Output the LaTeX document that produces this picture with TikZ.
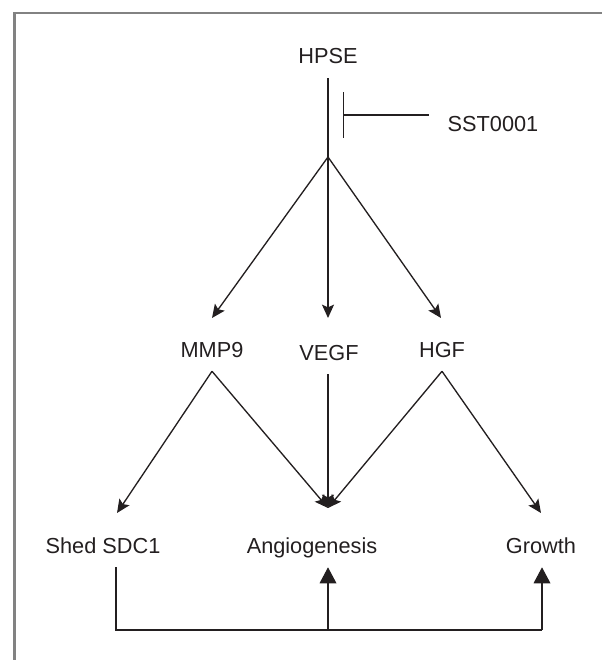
\documentclass[tikz,border=0pt]{standalone}
\usepackage{fontspec}
\setmainfont{Liberation Sans}
\usepackage{xcolor}
\usepackage{tikz}
\usetikzlibrary{arrows.meta, positioning}
\definecolor{framegray}{RGB}{130,130,130}
\definecolor{ink}{RGB}{35,31,32}

\begin{document}
\begin{tikzpicture}[
  x=0.75pt, y=-0.75pt,
  lbl/.style={font=\fontsize{16.3}{19}\selectfont, text=ink, anchor=base,
              inner xsep=0pt, inner ysep=10.5pt, text height=11.7pt, text depth=0pt},
  link/.style={line width=1pt, ink},
  arrow/.style={link, -{Stealth[length=10pt, width=9pt, inset=2pt]}},
  up/.style={link, -{Triangle[length=12pt, width=12.5pt]}},
  block/.style={link, -{Bar[width=34pt]}}
]
\useasboundingbox (0,0) rectangle (602,660);
\draw[framegray, line width=1.8pt] (14.5,660) -- (14.5,12.8) -- (602,12.8);

\node[lbl] (hpse)   at (328,64)  {HPSE};
\node[lbl] (sst)    at (493,132) {SST0001};
\node[lbl] (mmp9)   at (212,357) {MMP9};
\node[lbl] (vegf)   at (329,360) {VEGF};
\node[lbl] (hgf)    at (442,357) {HGF};
\node[lbl] (sdc)    at (103,553) {Shed SDC1};
\node[lbl] (angio)  at (312,553) {Angiogenesis};
\node[lbl] (growth) at (541,553) {Growth};

\coordinate (split)     at (328,157);
\coordinate (bar)       at (343,115);
\coordinate (mmp9-in)   at (212,318);
\coordinate (vegf-in)   at (328,318);
\coordinate (hgf-in)    at (441,318);
\coordinate (sdc-in)    at (117,513);
\coordinate (conv)      at (328,508);
\coordinate (growth-in) at (541,513);
\coordinate (bus-l)     at (116,630);
\coordinate (bus-m)     at (328,630);
\coordinate (bus-r)     at (542,630);

% HPSE and its inhibitor
\draw[link] (hpse) -- (split);
\draw[block, shorten <=14pt] (sst.west |- bar) -- (bar);

\draw[arrow] (split) -- (mmp9-in);
\draw[arrow] (split) -- (vegf-in);
\draw[arrow] (split) -- (hgf-in);

\draw[arrow] (mmp9.south) -- (sdc-in);
\draw[arrow] (mmp9.south) -- (conv);
\draw[arrow] (vegf.south -| conv) -- (conv);
\draw[arrow] (hgf.south) -- (conv);
\draw[arrow] (hgf.south) -- (growth-in);

% feedback from shed SDC1
\draw[link] (sdc.south -| bus-l) -- (bus-l) -- (bus-r);
\draw[up] (bus-m) -- (bus-m |- angio.south);
\draw[up] (bus-r) -- (bus-r |- growth.south);
\end{tikzpicture}
\end{document}
